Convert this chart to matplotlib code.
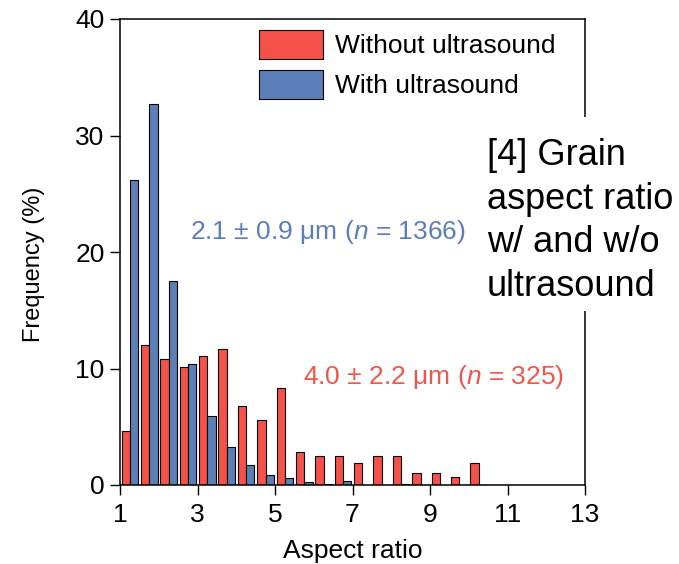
import matplotlib
matplotlib.use("Agg")
import matplotlib.pyplot as plt
from matplotlib.patches import Rectangle
import numpy as np

plt.rcParams['font.family'] = ['Liberation Sans', 'DejaVu Sans']
plt.rcParams['mathtext.fontset'] = 'custom'
plt.rcParams['mathtext.rm'] = 'Liberation Sans'
plt.rcParams['mathtext.it'] = 'Liberation Sans:italic'

# Data
bin_starts = [1.0, 1.5, 2.0, 2.5, 3.0, 3.5, 4.0, 4.5, 5.0, 5.5,
              6.0, 6.5, 7.0, 7.5, 8.0, 8.5, 9.0, 9.5, 10.0]
without_us = [4.6, 12.0, 10.8, 10.15, 11.1, 11.7, 6.8, 5.55, 8.3, 2.8,
              2.5, 2.5, 1.9, 2.5, 2.5, 1.0, 1.0, 0.7, 1.9]
with_us = [26.2, 32.7, 17.5, 10.4, 5.9, 3.3, 1.7, 0.86, 0.63, 0.3,
           0.1, 0.35, 0.0, 0.0, 0.12, 0.0, 0.0, 0.0, 0.0]
xticks = [1, 3, 5, 7, 9, 11, 13]
yticks = [0, 10, 20, 30, 40]

red = '#F5524A'
blue = '#5B7FB6'
red_txt = '#F0564C'
blue_txt = '#5B7FB6'

W, H = 679, 564
fig = plt.figure(figsize=(W / 100, H / 100), dpi=100)
ax = fig.add_axes([120 / W, 1 - 485 / H, (585 - 120) / W, (485 - 19) / H])

starts = np.array(bin_starts)
bw = 0.215
off = 0.04
ax.bar(starts + off, without_us, width=bw, align='edge', color=red,
       edgecolor='black', linewidth=0.8, label='Without ultrasound', zorder=2)
ax.bar(starts + off + bw, with_us, width=bw, align='edge', color=blue,
       edgecolor='black', linewidth=0.8, label='With ultrasound', zorder=2)

ax.set_xlim(1, 13)
ax.set_ylim(0, 40)
ax.set_xticks(xticks)
ax.set_yticks(yticks)
ax.tick_params(axis='both', direction='out', length=7, width=1, labelsize=19,
               top=False, right=False)
ax.tick_params(axis='x', pad=6)
ax.tick_params(axis='y', pad=4)
for s in ax.spines.values():
    s.set_linewidth(1.1)

ax.set_xlabel('Aspect ratio', fontsize=19)
ax.xaxis.set_label_coords(0.5, -(551 - 485) / 466, transform=ax.transAxes)
ax.xaxis.label.set_va('center')
ax.set_ylabel('Frequency (%)', fontsize=17)
ax.yaxis.set_label_coords(-(120 - 34) / 465, (485 - 264) / 466)
ax.yaxis.label.set_va('center')

ax.text(2.81, 21.7, r'2.1 ± 0.9 μm ($n$ = 1366)', color=blue_txt, fontsize=19,
        ha='left', va='center')
ax.text(5.72, 9.27, r'4.0 ± 2.2 μm ($n$ = 325)', color=red_txt, fontsize=19,
        ha='left', va='center')

leg = ax.legend(loc='upper left', bbox_to_anchor=(259 / W, 1 - 30 / H),
                bbox_transform=fig.transFigure, frameon=False, fontsize=19,
                handlelength=2.42, handleheight=1.32, handletextpad=0.45,
                labelspacing=0.4, borderpad=0, borderaxespad=0)

# white box covering part of right spine, with overlay text
fig.add_artist(Rectangle((470 / W, 1 - 311 / H), (W - 470) / W, (311 - 117) / H,
                         transform=fig.transFigure, facecolor='white',
                         edgecolor='none', zorder=5))
fig.text(487 / W, 1 - 221 / H, '[4] Grain\naspect ratio\nw/ and w/o\nultrasound',
         fontsize=26, color='black', ha='left', va='center', zorder=6,
         linespacing=1.32)

fig.savefig('out.png', dpi=100)
